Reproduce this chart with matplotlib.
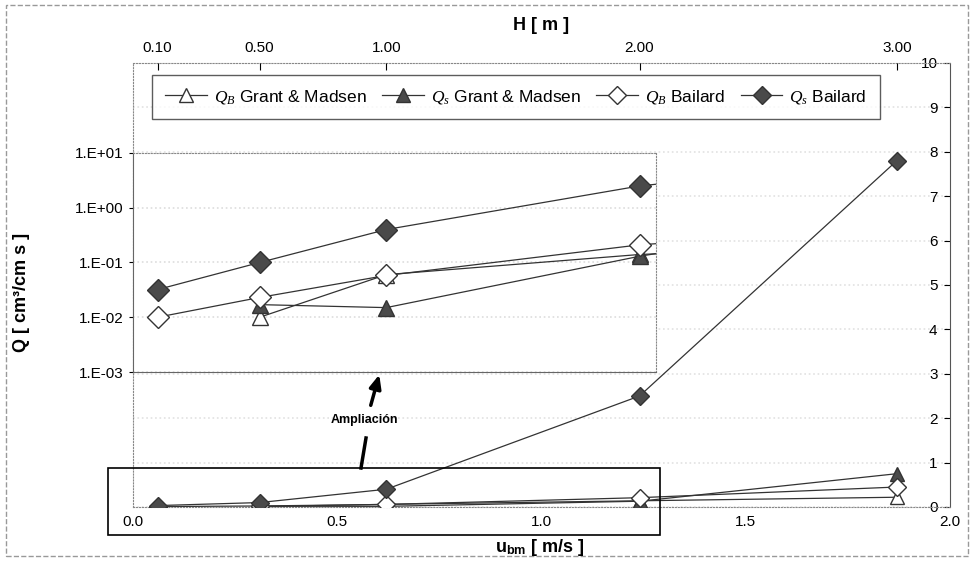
import matplotlib
matplotlib.use("Agg")
from matplotlib import pyplot as plt
from matplotlib.patches import Rectangle
import numpy as np

plt.rcParams["font.family"] = ["Liberation Sans", "DejaVu Sans"]
plt.rcParams["mathtext.fontset"] = "custom"
plt.rcParams["mathtext.it"] = "Liberation Serif:italic"
plt.rcParams["mathtext.rm"] = "Liberation Sans"
plt.rcParams["mathtext.bf"] = "Liberation Sans:bold"

# wave height and matching near-bed orbital velocity
h_labels = ["0.10", "0.50", "1.00", "2.00", "3.00"]
u_bm = [0.06, 0.31, 0.62, 1.24, 1.87]

# transport rates [cm3/cm s]
qb_grant = [np.nan, 0.010, 0.060, 0.14, 0.22]
qs_grant = [np.nan, 0.017, 0.015, 0.13, 0.75]
qb_bailard = [0.010, 0.023, 0.058, 0.21, 0.45]
qs_bailard = [0.032, 0.10, 0.40, 2.5, 7.8]

series = [
    (r"$Q_B$ Grant & Madsen", qb_grant, "^", "white"),
    (r"$Q_s$ Grant & Madsen", qs_grant, "^", "#4a4a4a"),
    (r"$Q_B$ Bailard", qb_bailard, "D", "white"),
    (r"$Q_s$ Bailard", qs_bailard, "D", "#4a4a4a"),
]

W, H = 973, 569
fig = plt.figure(figsize=(W / 100, H / 100), dpi=100)


def fx(px):
    return px / W


def fy(py):
    return 1 - py / H


# main axes (linear)
ax = fig.add_axes([fx(133), fy(507), fx(950) - fx(133), fy(63) - fy(507)])
ax.set_xlim(0, 2.0)
ax.set_ylim(0, 10)
handles = []
for label, vals, mk, fc in series:
    ms = 9 if mk == "D" else 10
    (ln,) = ax.plot(u_bm, vals, color="#333333", lw=0.9, marker=mk, ms=ms,
                    mfc=fc, mec="#333333", mew=1.0, label=label, zorder=3)
    handles.append(ln)

ax.set_xticks([0.0, 0.5, 1.0, 1.5, 2.0])
ax.set_xticklabels(["0.0", "0.5", "1.0", "1.5", "2.0"])
ax.tick_params(axis="x", length=0, pad=6, labelsize=11)
ax.yaxis.tick_right()
ax.set_yticks(range(0, 11))
ax.tick_params(axis="y", direction="in", length=4, pad=-9, labelsize=11)
plt.setp(ax.get_yticklabels(), ha="right")
ax.grid(axis="y", color="#e2e2e2", ls=":", lw=1.2)
for s in ["left", "top", "bottom"]:
    ax.spines[s].set_linestyle(":")
    ax.spines[s].set_color("#888888")
ax.spines["right"].set_color("#555555")

# top axis with wave height
ax_top = ax.twiny()
ax_top.set_xlim(ax.get_xlim())
ax_top.set_xticks(u_bm)
ax_top.set_xticklabels(h_labels)
ax_top.tick_params(axis="x", direction="in", length=5, pad=6, labelsize=11)
for s in ax_top.spines.values():
    s.set_visible(False)
ax_top.set_xlabel("H [ m ]", fontweight="bold", fontsize=13, labelpad=8)

# inset (log scale)
inset = fig.add_axes([fx(133), fy(372), fx(656) - fx(133), fy(153) - fy(372)])
inset.set_zorder(5)
inset.set_xlim(0, (656 - 133) / 408.5)
inset.set_yscale("log")
inset.set_ylim(1e-3, 1e1)
for label, vals, mk, fc in series:
    ms = 11 if mk == "D" else 12
    inset.plot(u_bm, vals, color="#333333", lw=0.9, marker=mk, ms=ms,
               mfc=fc, mec="#333333", mew=1.0)
inset.set_xticks([])
inset.set_yticks([1e-3, 1e-2, 1e-1, 1e0, 1e1])
inset.set_yticklabels(["1.E-03", "1.E-02", "1.E-01", "1.E+00", "1.E+01"])
inset.yaxis.set_minor_locator(plt.NullLocator())
inset.tick_params(axis="y", length=3, labelsize=11)
inset.grid(axis="y", color="#dddddd", ls=":", lw=1.2)
for s in ["top", "right"]:
    inset.spines[s].set_linestyle(":")
    inset.spines[s].set_color("#888888")
for s in ["left", "bottom"]:
    inset.spines[s].set_color("#666666")

# legend
fig.legend(handles=handles, loc="center", bbox_to_anchor=(fx(516), fy(97)),
           ncol=4, fontsize=12.5, frameon=True, fancybox=False, edgecolor="#333333",
           handlelength=2.4, columnspacing=0.9, handletextpad=0.4,
           borderpad=0.75)

# labels
fig.text(fx(22), fy(292), "Q [ cm³/cm s ]", rotation=90, fontweight="bold",
         fontsize=13, ha="center", va="center")
fig.text(fx(540), fy(548), r"u$_{\mathbf{bm}}$ [ m/s ]", fontweight="bold",
         fontsize=13, ha="center", va="center")

# zoom box and arrow
fig.patches.append(Rectangle((fx(108), fy(535)), fx(660) - fx(108), fy(468) - fy(535),
                             transform=fig.transFigure, fill=False, ec="black", lw=1.2,
                             zorder=6))
fig.text(fx(364), fy(420), "Ampliación", fontsize=9, fontweight="bold",
         ha="center", va="center")
fig.add_artist(plt.Line2D([fx(361), fx(366)], [fy(468), fy(438)],
                          transform=fig.transFigure, color="black", lw=2.5))
ax.annotate("", xy=(fx(380), fy(372)), xytext=(fx(370), fy(408)),
            xycoords="figure fraction", textcoords="figure fraction",
            arrowprops=dict(arrowstyle="-|>,head_length=0.8,head_width=0.35",
                            color="black", lw=2.5))

# outer frame
fig.patches.append(Rectangle((fx(6), fy(556)), fx(968) - fx(6), fy(5) - fy(556),
                             transform=fig.transFigure, fill=False, ec="#999999",
                             lw=1.0, ls="--"))

fig.savefig("out.png", dpi=100)
